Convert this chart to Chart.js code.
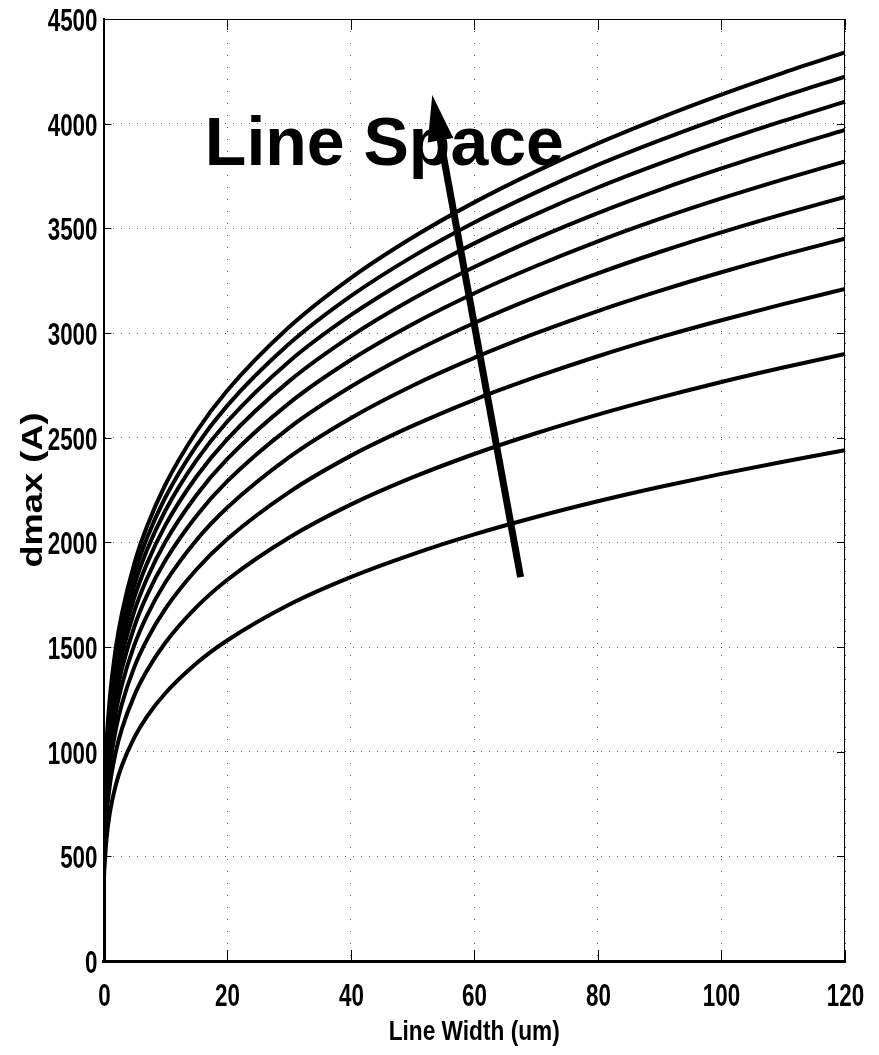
<!DOCTYPE html>
<html>
<head>
<meta charset="utf-8">
<script src="https://cdn.jsdelivr.net/npm/chart.js@4"></script>
<style>
  body { margin: 0; background: #fff; }
</style>
</head>
<body>
<canvas id="myChart" width="879" height="1055"></canvas>
<script>

// line width (um)
const widths = [0, 0.05, 0.2, 0.5, 1, 2, 3, 5, 7, 10, 15, 20, 30, 40, 50, 60, 70, 80, 90, 100, 110, 120]

// dmax (A), one curve per line space, top to bottom
const curve1 = [0, 574, 823, 1044, 1250, 1497, 1663, 1900, 2073, 2275, 2527, 2724, 3027, 3262, 3456, 3624, 3772, 3906, 4027, 4139, 4243, 4340]
const curve2 = [0, 559, 801, 1016, 1217, 1457, 1619, 1849, 2018, 2214, 2460, 2652, 2947, 3176, 3365, 3528, 3672, 3803, 3920, 4029, 4130, 4225]
const curve3 = [0, 543, 778, 987, 1182, 1416, 1573, 1797, 1961, 2151, 2390, 2576, 2863, 3085, 3269, 3428, 3568, 3695, 3809, 3915, 4013, 4105]
const curve4 = [0, 525, 753, 955, 1143, 1369, 1521, 1738, 1896, 2081, 2312, 2492, 2769, 2984, 3162, 3315, 3451, 3573, 3684, 3786, 3881, 3970]
const curve5 = [0, 505, 724, 919, 1100, 1318, 1464, 1672, 1825, 2002, 2224, 2397, 2664, 2871, 3042, 3190, 3320, 3438, 3545, 3643, 3734, 3820]
const curve6 = [0, 483, 692, 878, 1051, 1259, 1399, 1598, 1744, 1913, 2125, 2291, 2546, 2743, 2907, 3048, 3173, 3285, 3387, 3481, 3568, 3650]
const curve7 = [0, 456, 654, 830, 994, 1190, 1322, 1510, 1648, 1808, 2009, 2165, 2406, 2593, 2748, 2881, 2999, 3105, 3201, 3290, 3373, 3450]
const curve8 = [0, 424, 609, 772, 924, 1107, 1230, 1405, 1533, 1682, 1869, 2015, 2239, 2413, 2556, 2681, 2790, 2889, 2979, 3061, 3138, 3210]
const curve9 = [0, 383, 550, 697, 835, 1000, 1111, 1269, 1385, 1520, 1689, 1820, 2022, 2180, 2310, 2422, 2521, 2610, 2691, 2766, 2835, 2900]
const curve10 = [0, 323, 463, 587, 703, 842, 935, 1068, 1166, 1279, 1421, 1531, 1702, 1834, 1943, 2038, 2121, 2196, 2264, 2327, 2385, 2440]

const curvas = [curve1, curve2, curve3, curve4, curve5, curve6, curve7, curve8, curve9, curve10]

// axis ranges / tick steps
const xMax = 120
const xStep = 20
const yMax = 4500
const yStep = 500

const tituloX = 'Line Width (um)'
const tituloY = 'dmax (A)'

// annotation: text and arrow, in data units
const textoLabel = 'Line Space'
const textoPos = { x: 16.4, y: 3803 }
const setaInicio = { x: 67.5, y: 1834 }
const setaFim = { x: 53.2, y: 4137 }

const fonte = "'Liberation Sans', Arial, Helvetica, sans-serif"

// draws text squeezed/stretched along its own direction
function textoEscalado(ctx, txt, x, y, sx, align) {
  ctx.save()
  ctx.translate(x, y)
  ctx.scale(sx, 1)
  ctx.textAlign = align
  ctx.fillText(txt, 0, 0)
  ctx.restore()
}

// MATLAB style box, inward ticks, labels and annotation
const extras = {
  id: 'extras',
  afterDatasetsDraw(chart) {
    const ctx = chart.ctx
    const a = chart.chartArea
    const xs = chart.scales.x
    const ys = chart.scales.y

    ctx.save()
    // box
    ctx.strokeStyle = '#000'
    ctx.lineWidth = 1
    ctx.beginPath()
    ctx.moveTo(a.left, a.top + 0.5)
    ctx.lineTo(a.right, a.top + 0.5)
    ctx.moveTo(a.right - 0.5, a.top)
    ctx.lineTo(a.right - 0.5, a.bottom)
    ctx.stroke()

    // ticks + labels
    ctx.fillStyle = '#000'
    ctx.font = 'bold 32px ' + fonte
    ctx.textBaseline = 'alphabetic'
    xs.ticks.forEach(t => {
      const px = Math.round(xs.getPixelForValue(t.value)) + 0.5
      ctx.beginPath()
      ctx.moveTo(px, a.bottom)
      ctx.lineTo(px, a.bottom - 11)
      ctx.moveTo(px, a.top)
      ctx.lineTo(px, a.top + 11)
      ctx.stroke()
      textoEscalado(ctx, String(t.value), px, a.bottom + 45, 0.7, 'center')
    })
    ys.ticks.forEach(t => {
      const py = Math.round(ys.getPixelForValue(t.value)) + 0.5
      ctx.beginPath()
      ctx.moveTo(a.left, py)
      ctx.lineTo(a.left + 8, py)
      ctx.moveTo(a.right, py)
      ctx.lineTo(a.right - 8, py)
      ctx.stroke()
      textoEscalado(ctx, String(t.value), a.left - 6, py + 11.5, 0.7, 'right')
    })

    // axis titles
    ctx.font = 'bold 27px ' + fonte
    textoEscalado(ctx, tituloX, (a.left + a.right) / 2, 1040, 0.84, 'center')
    ctx.save()
    ctx.translate(42, (a.top + a.bottom) / 2)
    ctx.rotate(-Math.PI / 2)
    ctx.font = 'bold 29px ' + fonte
    textoEscalado(ctx, tituloY, 0, 0, 1.25, 'center')
    ctx.restore()

    // text
    ctx.font = 'bold 68px ' + fonte
    ctx.textAlign = 'left'
    ctx.fillText(textoLabel, xs.getPixelForValue(textoPos.x), ys.getPixelForValue(textoPos.y))

    // arrow
    const x0 = xs.getPixelForValue(setaInicio.x)
    const y0 = ys.getPixelForValue(setaInicio.y)
    const x1 = xs.getPixelForValue(setaFim.x)
    const y1 = ys.getPixelForValue(setaFim.y)
    const ang = Math.atan2(y1 - y0, x1 - x0)
    const headLen = 46
    const headW = 13
    const bx = x1 - headLen * Math.cos(ang)
    const by = y1 - headLen * Math.sin(ang)
    ctx.lineWidth = 7
    ctx.lineCap = 'butt'
    ctx.beginPath()
    ctx.moveTo(x0, y0)
    ctx.lineTo(bx, by)
    ctx.stroke()
    ctx.beginPath()
    ctx.moveTo(x1, y1)
    ctx.lineTo(bx + headW * Math.sin(ang), by - headW * Math.cos(ang))
    ctx.lineTo(bx - headW * Math.sin(ang), by + headW * Math.cos(ang))
    ctx.closePath()
    ctx.fill()
    ctx.restore()
  }
}

const canvas = document.getElementById('myChart')
const ctx = canvas.getContext('2d')

const chart = new Chart(ctx, {
  type: 'line',
  data: {
    datasets: curvas.map((c, i) => ({
      label: 'curve ' + (i + 1),
      data: widths.map((w, j) => ({ x: w, y: c[j] })),
      borderColor: '#000',
      borderWidth: 4,
      pointRadius: 0,
      fill: false,
      cubicInterpolationMode: 'monotone'
    }))
  },
  options: {
    responsive: false,
    animation: false,
    layout: { padding: { top: 19, right: 34, left: 0, bottom: 0 } },
    plugins: {
      legend: { display: false },
      tooltip: { enabled: false }
    },
    scales: {
      x: {
        type: 'linear',
        min: 0,
        max: xMax,
        afterFit(scale) { scale.height = 94 },
        ticks: { stepSize: xStep, display: false },
        grid: { color: '#666', lineWidth: 1, drawTicks: false },
        border: { color: '#000', width: 3, dash: [1, 11] }
      },
      y: {
        type: 'linear',
        min: 0,
        max: yMax,
        afterFit(scale) { scale.width = 103.5 },
        ticks: { stepSize: yStep, display: false },
        grid: { color: '#666', lineWidth: 1, drawTicks: false },
        border: { color: '#000', width: 2, dash: [1, 7] }
      }
    }
  },
  plugins: [extras]
})

</script>
</body>
</html>
